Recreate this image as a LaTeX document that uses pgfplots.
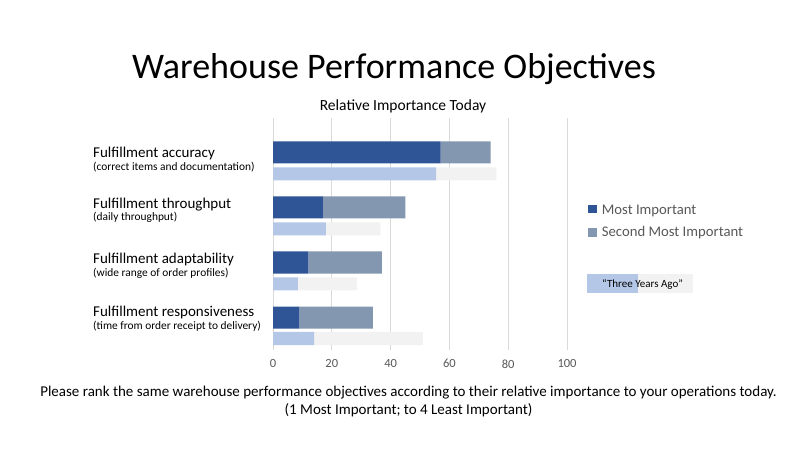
\documentclass[border=0pt]{standalone}
\usepackage{pgfplots}
\pgfplotsset{compat=1.18}
\usepackage{fontspec}
\setmainfont{Carlito}
\definecolor{mi}{HTML}{2F5597}
\definecolor{smi}{HTML}{8497B0}
\definecolor{tya}{HTML}{B4C7E7}
\definecolor{tyb}{HTML}{F2F2F2}
\definecolor{gridc}{HTML}{D9D9D9}
\definecolor{tickc}{HTML}{595959}
\begin{document}
\begin{tikzpicture}[x=1pt,y=1pt]
\path[use as bounding box, fill=white] (0,0) rectangle (800,450);
\pgfplotsset{base/.style={
  at={(273pt,100pt)}, anchor=south west,
  width=294pt, height=232pt, scale only axis,
  xmin=0, xmax=100, ymin=0, ymax=232,
  axis line style={draw=none}, ytick=\empty,
  xbar stacked, bar width=22,
}}
% today
\begin{axis}[base,
  xtick={0,20,...,100}, major tick length=0pt,
  xmajorgrids, grid style={gridc, line width=0.8pt},
  xticklabel style={font=\fontsize{12.5}{14}\selectfont, text=tickc, yshift=-6pt},
  /pgf/number format/assume math mode=true,
  bar width=22]
\addplot[fill=mi, draw=none] coordinates {(57,197.5) (17,142.5) (12,87.5) (9,32.5)};
\addplot[fill=smi, draw=none] coordinates {(17,197.5) (28,142.5) (25,87.5) (25,32.5)};
\end{axis}
% three years ago
\begin{axis}[base, xtick=\empty, bar width=13]
\addplot[fill=tya, draw=none] coordinates {(55.5,176) (18,121) (8.5,66) (14,11.5)};
\addplot[fill=tyb, draw=none] coordinates {(20.5,176) (18.5,121) (20,66) (37,11.5)};
\end{axis}
% titles
\node[anchor=base] at (394,371) {\fontsize{36}{40}\selectfont Warehouse Performance Objectives};
\node[anchor=base] at (403,339) {\fontsize{15.5}{18}\selectfont Relative Importance Today};
% category labels
\begin{scope}[every node/.style={anchor=base west, inner sep=0pt}]
\node at (93,292.3) {\fontsize{15}{18}\selectfont Fulfillment accuracy};
\node at (93,279) {\fontsize{11.4}{13}\selectfont (correct items and documentation)};
\node at (93,241.7) {\fontsize{15}{18}\selectfont Fulfillment throughput};
\node at (93,229) {\fontsize{11.4}{13}\selectfont (daily throughput)};
\node at (93,186.7) {\fontsize{15}{18}\selectfont Fulfillment adaptability};
\node at (93,173.3) {\fontsize{11.4}{13}\selectfont (wide range of order profiles)};
\node at (93,133.3) {\fontsize{15}{18}\selectfont Fulfillment responsiveness};
\node at (93,121) {\fontsize{11.4}{13}\selectfont (time from order receipt to delivery)};
% legend
\fill[mi] (588.3,236.7) rectangle (596.7,245.3);
\node[text=tickc] at (601.7,235) {\fontsize{14.7}{17}\selectfont Most Important};
\fill[smi] (588.3,213.3) rectangle (596.7,221.7);
\node[text=tickc] at (601.7,213.3) {\fontsize{14.7}{17}\selectfont Second Most Important};
\end{scope}
\fill[tya] (587.3,156.7) rectangle (637.7,176);
\fill[tyb] (637.7,156.7) rectangle (693.3,176);
\node[anchor=base] at (642.5,162.5) {\fontsize{11}{13}\selectfont “Three Years Ago”};
% bottom note
\node[anchor=base] at (408.5,54) {\fontsize{15}{18}\selectfont Please rank the same warehouse performance objectives according to their relative importance to your operations today.};
\node[anchor=base] at (408.5,36) {\fontsize{15}{18}\selectfont (1 Most Important; to 4 Least Important)};
\end{tikzpicture}
\end{document}
